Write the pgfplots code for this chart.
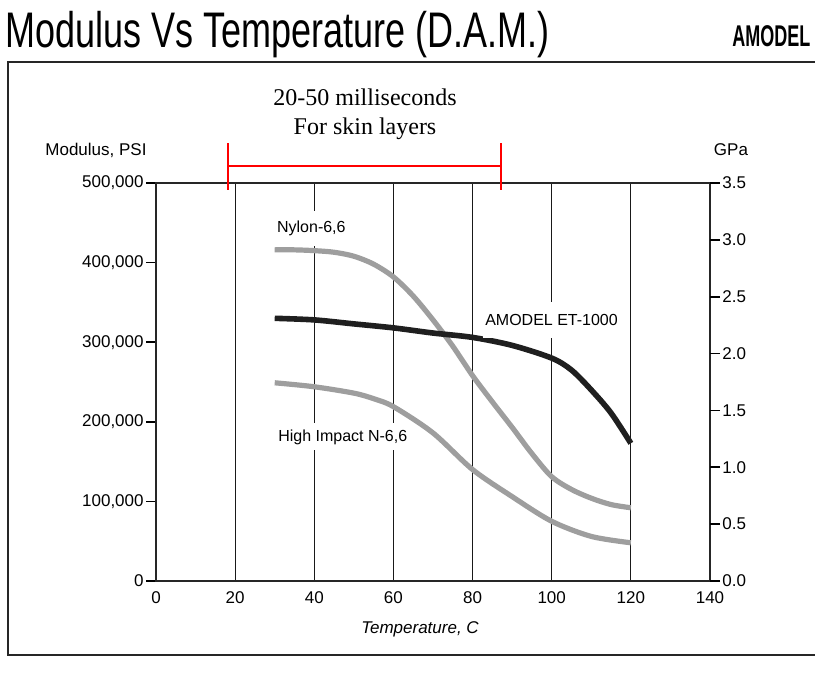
\documentclass[border=0pt]{standalone}
\usepackage{pgfplots}
\pgfplotsset{compat=1.18}
\usepackage{fontspec}
\setmainfont{Liberation Sans}
\newfontfamily\seriffont{Liberation Serif}
\usepackage{graphicx}

\begin{document}
\begin{tikzpicture}
\clip (0,0) rectangle (407.5pt,341.5pt);
\draw[line width=1pt, black!85] (4pt,14pt) rectangle (430pt,310.5pt);
\node[anchor=base west, inner sep=0] at (2.5pt,317.5pt) {\scalebox{0.72}[1]{\fontsize{25}{30}\selectfont Modulus Vs Temperature (D.A.M.)}};
\node[anchor=base west, inner sep=0] at (366pt,318pt) {\scalebox{0.6}[1]{\fontsize{15}{18}\selectfont\bfseries AMODEL}};
\node[anchor=base, inner sep=0] at (182.5pt,288.5pt) {\seriffont\fontsize{12}{14}\selectfont 20-50 milliseconds};
\node[anchor=base, inner sep=0] at (182.5pt,274pt) {\seriffont\fontsize{12}{14}\selectfont For skin layers};
\node[anchor=west, inner sep=0] at (22.5pt,266.5pt) {\fontsize{8.5}{10}\selectfont Modulus, PSI};
\node[anchor=center, inner sep=0] at (365.5pt,266.5pt) {\fontsize{8.5}{10}\selectfont GPa};
\node[anchor=center, inner sep=0] at (210pt,27pt) {\fontsize{8.5}{10}\selectfont\itshape Temperature, C};

\begin{axis}[
  at={(78pt,51pt)}, anchor=south west, scale only axis,
  width=277pt, height=199pt,
  xmin=0, xmax=140, ymin=0, ymax=500000,
  xtick={0,20,...,140}, ytick={0,100000,...,500000},
  xmajorgrids, grid style={black!90, line width=0.6pt},
  axis line style={line width=1pt, black!85},
  ytick pos=left, xtick pos=bottom,
  tick align=outside, major tick length=5pt,
  x tick style={draw=none},
  y tick style={black, line width=0.8pt},
  scaled y ticks=false,
  /pgf/number format/assume math mode=true,
  /pgf/number format/fixed,
  /pgf/number format/1000 sep={,},
  ticklabel style={font=\fontsize{8.5}{10}\selectfont},
  yticklabel style={inner sep=1pt},
  xticklabel style={yshift=3pt},
  clip=false,
]
\addplot[black!38, line width=2.6pt, smooth] coordinates {
 (30,416000)(35,416000)(40,415000)(45,413000)(50,408000)(55,398000)(60,382000)(65,358000)(70,328000)(75,295000)(80,258000)(85,225000)(90,193000)(95,160000)(100,131000)(105,115000)(110,104000)(115,96000)(120,92000)};
\addplot[black!38, line width=2.6pt, smooth] coordinates {
 (30,249000)(40,244000)(50,236000)(55,229000)(60,219000)(70,186000)(80,140000)(90,106000)(100,75000)(110,56000)(120,48000)};
\addplot[black!88, line width=2.8pt, smooth] coordinates {
 (30,330000)(40,328000)(50,323000)(60,318000)(70,311500)(80,306000)(90,296000)(100,280000)(105,265000)(110,240000)(115,211000)(120,173000)};
\addplot[red, line width=1pt] coordinates {(18.2,550000)(18.2,491000)};
\addplot[red, line width=1pt] coordinates {(18.2,521000)(87.1,521000)};
\addplot[red, line width=1pt] coordinates {(87.1,550000)(87.1,491000)};
\node[fill=white, anchor=west, inner xsep=1pt, inner ysep=5pt, font=\fontsize{8}{10}\selectfont] at (axis cs:30,443000) {Nylon-6,6};
\node[fill=white, anchor=west, inner xsep=1pt, inner ysep=6pt, font=\fontsize{8}{10}\selectfont] at (axis cs:82.6,328000) {AMODEL ET-1000};
\node[fill=white, anchor=west, inner xsep=1pt, inner ysep=3pt, font=\fontsize{8}{10}\selectfont] at (axis cs:30.3,181000) {High Impact N-6,6};
\end{axis}

\begin{axis}[
  at={(78pt,51pt)}, anchor=south west, scale only axis,
  width=277pt, height=199pt,
  xmin=0, xmax=140, ymin=0, ymax=3.5,
  hide x axis,
  axis y line*=right,
  axis line style={draw=none},
  ytick={0,0.5,...,3.5},
  tick align=outside, major tick length=5pt,
  y tick style={black, line width=0.8pt},
  /pgf/number format/assume math mode=true,
  /pgf/number format/fixed,
  /pgf/number format/fixed zerofill,
  /pgf/number format/precision=1,
  ticklabel style={font=\fontsize{8.5}{10}\selectfont},
  yticklabel style={inner sep=1pt},
]
\addplot[draw=none, forget plot] coordinates {(0,0)(140,3.5)};
\end{axis}
\end{tikzpicture}
\end{document}
